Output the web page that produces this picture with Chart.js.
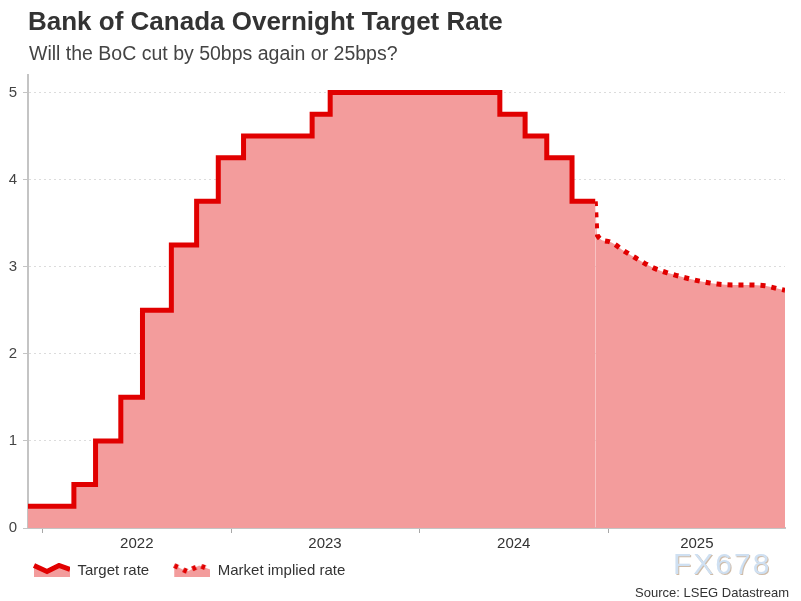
<!DOCTYPE html>
<html>
<head>
<meta charset="utf-8">
<script src="https://cdn.jsdelivr.net/npm/chart.js@4.4.1/dist/chart.umd.min.js"></script>
<style>
html,body{margin:0;padding:0;background:#fff;}
body{width:801px;height:601px;position:relative;overflow:hidden;font-family:'Liberation Sans',Arial,sans-serif;}
#c{position:absolute;left:0;top:0;}
.t{position:absolute;white-space:nowrap;line-height:1;}
#title{left:28px;top:8px;font-size:26px;font-weight:bold;color:#333;}
#sub{left:29px;top:43.5px;font-size:19.5px;color:#444;}
#src{right:12px;top:586px;font-size:13px;color:#333;}
#wm{left:673px;top:549px;font-size:30px;color:#cfe0f2;letter-spacing:2px;text-shadow:1px 1px 0 rgba(160,120,80,0.5);}
</style>
</head>
<body>
<canvas id="c" width="801" height="601"></canvas>
<div class="t" id="title">Bank of Canada Overnight Target Rate</div>
<div class="t" id="sub">Will the BoC cut by 50bps again or 25bps?</div>
<div class="t" id="wm">FX678</div>
<div class="t" id="src">Source: LSEG Datastream</div>
<script>
// ---- data ----
const targetDates = ['2021-12-03','2022-03-02','2022-04-13','2022-06-01','2022-07-13','2022-09-07','2022-10-26','2022-12-07',
  '2023-01-25','2023-06-07','2023-07-12','2024-06-05','2024-07-24','2024-09-04','2024-10-23','2024-12-07'];
const targetRates = [0.25,0.5,1.0,1.5,2.5,3.25,3.75,4.25,4.5,4.75,5.0,4.75,4.5,4.25,3.75,3.75];

const impliedDates = ['2024-12-07','2024-12-11','2025-01-01','2025-02-01','2025-03-01','2025-04-01','2025-05-01',
  '2025-06-01','2025-07-01','2025-08-01','2025-09-01','2025-10-01','2025-11-01','2025-12-01','2025-12-10'];
const impliedRates = [3.75,3.36,3.29,3.18,3.08,2.98,2.92,2.87,2.83,2.80,2.79,2.79,2.78,2.74,2.73];

const yearTickDates = ['2022-01-01','2023-01-01','2024-01-01','2025-01-01'];
const yearLabels = ['2022','2023','2024','2025'];
const yearLabelDates = ['2022-07-02','2023-07-02','2024-07-02','2025-06-22'];
const yTicks = [0,1,2,3,4,5];
const xMinDate = '2021-12-03';
const xMaxDate = '2025-12-10';
const yMax = 5.2;

// ---- helpers ----
const DAY = 86400000;
const EPOCH = Date.UTC(2022,0,1);
const toDay = s => (Date.parse(s + 'T00:00:00Z') - EPOCH) / DAY;
const LINE = '#e10000';
const FILL = '#f39c9c';

const boundaryDays = yearTickDates.map(toDay);
const labelDays = yearLabelDates.map(toDay);
const labelMap = {};
labelDays.forEach((d,i) => { labelMap[d] = yearLabels[i]; });
const xTickValues = boundaryDays.concat(labelDays).sort((a,b)=>a-b);

function makeIcon(dashed){
  const cv = document.createElement('canvas');
  cv.width = 51; cv.height = 16;
  const g = cv.getContext('2d');
  const pts = [[15,2.5],[28,8.5],[40,2.5],[51,6.5]];
  g.beginPath();
  g.moveTo(pts[0][0], pts[0][1]);
  pts.slice(1).forEach(p => g.lineTo(p[0], p[1]));
  g.lineTo(51,14); g.lineTo(15,14); g.closePath();
  g.fillStyle = FILL; g.fill();
  g.beginPath();
  g.moveTo(pts[0][0], pts[0][1]);
  pts.slice(1).forEach(p => g.lineTo(p[0], p[1]));
  g.lineWidth = 5; g.strokeStyle = LINE; g.lineJoin = 'miter';
  g.setLineDash(dashed ? [4,6] : []);
  g.stroke();
  return cv;
}
const icons = [makeIcon(false), makeIcon(true)];

Chart.defaults.font.family = "'Liberation Sans', Arial, sans-serif";

new Chart(document.getElementById('c'), {
  type: 'line',
  data: {
    datasets: [
      {
        label: 'Target rate',
        data: targetDates.map((d,i) => ({x: toDay(d), y: targetRates[i]})),
        stepped: true,
        borderColor: LINE, borderWidth: 5, borderJoinStyle: 'miter',
        backgroundColor: FILL, fill: 'origin', pointRadius: 0
      },
      {
        label: 'Market implied rate',
        data: impliedDates.map((d,i) => ({x: toDay(d), y: impliedRates[i]})),
        borderColor: LINE, borderWidth: 5, borderDash: [5,6],
        backgroundColor: FILL, fill: 'origin', pointRadius: 0,
        cubicInterpolationMode: 'monotone'
      }
    ]
  },
  options: {
    responsive: false,
    animation: false,
    layout: { padding: { top: 75, left: 9, right: 16, bottom: 12.5 } },
    scales: {
      x: {
        type: 'linear',
        min: toDay(xMinDate), max: toDay(xMaxDate),
        afterBuildTicks: s => { s.ticks = xTickValues.map(v => ({value: v})); },
        afterFit: s => { s.height = 25.5; },
        ticks: {
          autoSkip: false, maxRotation: 0, padding: 2,
          color: '#333', font: { size: 15 },
          callback: v => (labelMap[v] !== undefined ? labelMap[v] : '')
        },
        grid: {
          drawOnChartArea: false, drawTicks: true, tickLength: 5,
          tickColor: ctx => (ctx.tick && boundaryDays.includes(ctx.tick.value)) ? '#a8a8a8' : 'rgba(0,0,0,0)'
        },
        border: { color: '#c4c4c4', width: 2 }
      },
      y: {
        min: 0, max: yMax,
        afterBuildTicks: s => { s.ticks = yTicks.map(v => ({value: v})); },
        afterFit: s => { s.width = 19; },
        ticks: { padding: 6, color: '#444', font: { size: 15 } },
        grid: { color: '#dcdcdc', tickLength: 5, tickColor: '#c4c4c4' },
        border: { color: '#c4c4c4', width: 2, dash: [2,3] }
      }
    },
    plugins: {
      tooltip: { enabled: false },
      legend: {
        position: 'bottom', align: 'start', fullSize: true,
        labels: {
          usePointStyle: true, pointStyleWidth: 51, boxHeight: 15, padding: 10,
          color: '#333', font: { size: 15 },
          generateLabels: chart => chart.data.datasets.map((ds,i) => ({
            text: ds.label, pointStyle: icons[i], fillStyle: FILL, strokeStyle: LINE,
            lineWidth: 0, hidden: false, datasetIndex: i, fontColor: '#333'
          }))
        }
      }
    }
  }
});
</script>
</body>
</html>
